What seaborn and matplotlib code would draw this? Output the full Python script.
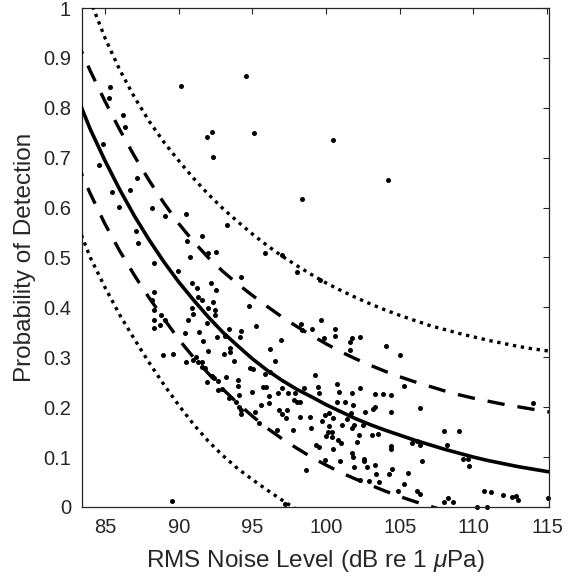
import numpy as np
import pandas as pd
import matplotlib
matplotlib.use("Agg")
import matplotlib.pyplot as plt
from matplotlib.ticker import FormatStrFormatter
import seaborn as sns

# --- Detections: RMS noise level (dB) vs probability of detection ---
noise_db = [
    85.36, 85.29, 86.22, 86.38, 84.86, 84.57, 87.17, 85.48, 86.72, 85.93, 88.19, 87.13, 87.24,
    88.30, 88.30, 88.30, 88.30, 88.30, 88.80, 89.10, 88.70, 90.16, 94.56, 91.95, 92.29, 95.12,
    92.36, 93.30, 89.08, 90.48, 90.55, 91.61, 90.77, 92.02, 92.52, 89.98, 94.22, 90.89, 92.20,
    92.54, 91.23, 91.34, 91.57, 92.36, 88.17, 94.74, 90.89, 91.97, 92.47, 90.96, 92.47, 95.26,
    90.66, 91.90, 91.41, 93.42, 94.22, 94.17, 92.58, 93.15, 90.43, 91.68, 93.45, 93.50, 92.02,
    93.08, 88.92, 89.64, 90.50, 91.20, 91.30, 91.55, 91.60, 91.00, 91.79, 93.72, 94.85, 95.05,
    92.25, 92.40, 92.70, 91.90, 93.22, 93.99, 94.00, 94.96, 92.70, 92.95, 94.06, 93.38, 93.90,
    94.10, 94.20, 94.22, 95.19, 95.42, 89.53, 98.30, 99.67, 98.36, 99.04, 100.58, 100.62, 99.83,
    101.76, 101.64, 101.64, 96.96, 96.20, 96.50, 95.87, 96.20, 99.22, 95.69, 95.95, 97.00, 96.77,
    97.41, 96.10, 97.90, 97.80, 98.00, 98.20, 98.47, 99.45, 99.54, 100.74, 100.85, 101.76, 101.30,
    100.74, 95.60, 96.10, 96.80, 97.00, 97.30, 97.34, 98.25, 98.93, 96.67, 97.73, 98.97, 99.72,
    99.95, 100.22, 100.44, 100.22, 100.10, 100.40, 100.00, 100.40, 100.80, 101.00, 100.44, 99.30,
    99.50, 99.95, 100.97, 98.63, 101.80, 101.10, 101.87, 101.42, 101.76, 101.80, 101.87, 100.47,
    98.38, 95.87, 97.00, 98.05, 99.60, 104.20, 102.28, 104.09, 105.04, 105.27, 102.28, 103.34,
    103.87, 104.40, 101.70, 102.66, 103.20, 103.30, 104.40, 106.35, 101.76, 102.50, 102.20, 103.10,
    103.50, 102.10, 104.40, 104.40, 105.80, 106.20, 106.40, 107.98, 108.20, 106.50, 102.55, 102.60,
    102.80, 103.34, 103.40, 104.48, 104.25, 105.54, 105.31, 102.30, 102.90, 103.60, 104.86, 106.20,
    106.40, 108.00, 108.30, 114.03, 109.05, 109.30, 109.60, 109.68, 108.60, 110.25, 110.93, 110.70,
    111.22, 111.99, 112.60, 112.90, 113.00, 115.07, 97.20,
]
p_detect = [
    0.841, 0.819, 0.786, 0.761, 0.727, 0.685, 0.660, 0.632, 0.635, 0.602, 0.600, 0.554, 0.530,
    0.488, 0.431, 0.395, 0.375, 0.358, 0.385, 0.375, 0.365, 0.844, 0.864, 0.742, 0.751, 0.750,
    0.702, 0.565, 0.584, 0.587, 0.533, 0.543, 0.500, 0.510, 0.512, 0.472, 0.460, 0.448, 0.448,
    0.435, 0.438, 0.421, 0.415, 0.411, 0.415, 0.403, 0.398, 0.399, 0.395, 0.387, 0.384, 0.363,
    0.375, 0.368, 0.351, 0.357, 0.353, 0.341, 0.341, 0.343, 0.348, 0.333, 0.318, 0.310, 0.313,
    0.307, 0.305, 0.307, 0.290, 0.300, 0.290, 0.290, 0.280, 0.295, 0.278, 0.293, 0.278, 0.276,
    0.263, 0.258, 0.252, 0.251, 0.261, 0.254, 0.243, 0.231, 0.234, 0.236, 0.224, 0.218, 0.210,
    0.200, 0.195, 0.186, 0.191, 0.168, 0.011, 0.366, 0.375, 0.355, 0.357, 0.357, 0.343, 0.339,
    0.338, 0.331, 0.315, 0.335, 0.317, 0.293, 0.266, 0.270, 0.265, 0.241, 0.240, 0.239, 0.228,
    0.228, 0.223, 0.228, 0.215, 0.210, 0.210, 0.239, 0.241, 0.228, 0.246, 0.231, 0.228, 0.211,
    0.210, 0.205, 0.208, 0.195, 0.187, 0.178, 0.194, 0.181, 0.181, 0.154, 0.154, 0.158, 0.173,
    0.184, 0.188, 0.178, 0.162, 0.150, 0.150, 0.142, 0.140, 0.134, 0.128, 0.116, 0.124,
    0.120, 0.094, 0.093, 0.074, 0.204, 0.164, 0.164, 0.176, 0.108, 0.100, 0.081, 0.735,
    0.617, 0.510, 0.505, 0.470, 0.455, 0.655, 0.340, 0.323, 0.305, 0.242, 0.239, 0.226,
    0.226, 0.225, 0.188, 0.190, 0.196, 0.200, 0.190, 0.199, 0.158, 0.164, 0.144, 0.145,
    0.147, 0.131, 0.122, 0.117, 0.128, 0.133, 0.125, 0.152, 0.124, 0.093, 0.096, 0.092,
    0.081, 0.084, 0.066, 0.076, 0.066, 0.069, 0.047, 0.054, 0.053, 0.050, 0.032, 0.032,
    0.027, 0.009, 0.017, 0.209, 0.153, 0.096, 0.097, 0.082, 0.010, 0.000, 0.000, 0.033,
    0.031, 0.025, 0.020, 0.022, 0.013, 0.018, 0.005,
]

# --- Fitted curve and bounds at 1 dB steps (83..116 dB) ---
curve_db = list(range(83, 117))
nan = np.nan
fit = [0.830, 0.757, 0.694, 0.636, 0.583, 0.535, 0.491, 0.451, 0.415, 0.381, 0.350, 0.323,
       0.297, 0.274, 0.254, 0.236, 0.221, 0.205, 0.191, 0.177, 0.165, 0.154, 0.144, 0.134,
       0.125, 0.116, 0.108, 0.100, 0.093, 0.087, 0.081, 0.076, 0.071, 0.067]
conf_hi = [0.940, 0.874, 0.813, 0.756, 0.703, 0.654, 0.609, 0.568, 0.532, 0.500, 0.472, 0.447,
           0.424, 0.402, 0.381, 0.362, 0.344, 0.327, 0.311, 0.297, 0.284, 0.272, 0.261, 0.251,
           0.242, 0.233, 0.225, 0.218, 0.212, 0.206, 0.201, 0.196, 0.191, 0.187]
conf_lo = [0.695, 0.628, 0.567, 0.513, 0.464, 0.419, 0.377, 0.336, 0.300, 0.268, 0.236, 0.208,
           0.182, 0.158, 0.137, 0.118, 0.100, 0.084, 0.069, 0.056, 0.044, 0.032, 0.021, 0.011,
           0.002, -0.007, nan, nan, nan, nan, nan, nan, nan, nan]
pred_hi = [1.100, 1.015, 0.940, 0.876, 0.821, 0.773, 0.731, 0.694, 0.659, 0.627, 0.598, 0.572,
           0.547, 0.524, 0.503, 0.484, 0.466, 0.449, 0.434, 0.420, 0.407, 0.395, 0.384, 0.374,
           0.364, 0.356, 0.348, 0.341, 0.334, 0.328, 0.322, 0.317, 0.313, 0.309]
pred_lo = [0.575, 0.500, 0.440, 0.385, 0.336, 0.289, 0.245, 0.204, 0.166, 0.132, 0.103, 0.077,
           0.055, 0.034, 0.014, -0.005, nan, nan, nan, nan, nan, nan, nan, nan, nan, nan,
           nan, nan, nan, nan, nan, nan, nan, nan]

x_ticks = [85, 90, 95, 100, 105, 110, 115]
y_ticks = [0, 0.1, 0.2, 0.3, 0.4, 0.5, 0.6, 0.7, 0.8, 0.9, 1]

# --- Style (MATLAB-like box axes) ---
sns.set_style("white")
ink = "#262626"
plt.rcParams["font.family"] = ["Liberation Sans", "DejaVu Sans"]
plt.rcParams["mathtext.fontset"] = "custom"
plt.rcParams["mathtext.it"] = "Liberation Sans:italic"
plt.rcParams["mathtext.rm"] = "Liberation Sans"

fig = plt.figure(figsize=(5.68, 5.81), dpi=100)
ax = fig.add_axes([0.1444, 0.1274, 0.8215, 0.8588])

pts = pd.DataFrame({"noise": noise_db, "pd": p_detect})
sns.scatterplot(data=pts, x="noise", y="pd", ax=ax, color="black", s=13,
                linewidth=0, clip_on=False, zorder=2)

curves = pd.DataFrame({"noise": curve_db, "fit": fit, "conf_hi": conf_hi,
                       "conf_lo": conf_lo, "pred_hi": pred_hi, "pred_lo": pred_lo})
sns.lineplot(data=curves, x="noise", y="fit", ax=ax, color="black", lw=2.6, zorder=3)
for col in ["conf_hi", "conf_lo"]:
    sns.lineplot(data=curves, x="noise", y=col, ax=ax, color="black", lw=2.4,
                 linestyle=(0, (5.2, 3.9)), dash_capstyle="butt", zorder=3)
for col in ["pred_hi", "pred_lo"]:
    sns.lineplot(data=curves, x="noise", y=col, ax=ax, color="black", lw=2.4,
                 linestyle=(0, (1, 1.4)), dash_capstyle="butt", zorder=3)

ax.set_xlim(83.44, 115.1)
ax.set_ylim(0, 1)
ax.set_xticks(x_ticks)
ax.set_yticks(y_ticks)
ax.yaxis.set_major_formatter(FormatStrFormatter("%g"))
ax.tick_params(direction="in", length=4, width=0.8, colors=ink, labelsize=14.5,
               top=True, right=True, pad=8)
for sp in ax.spines.values():
    sp.set_color(ink)
    sp.set_linewidth(0.9)

ax.set_xlabel(r"RMS Noise Level (dB re 1 $\mu$Pa)", fontsize=17.5, color=ink, labelpad=8)
ax.set_ylabel("Probability of Detection", fontsize=17.5, color=ink, labelpad=5)

fig.savefig("out.png", dpi=100)
